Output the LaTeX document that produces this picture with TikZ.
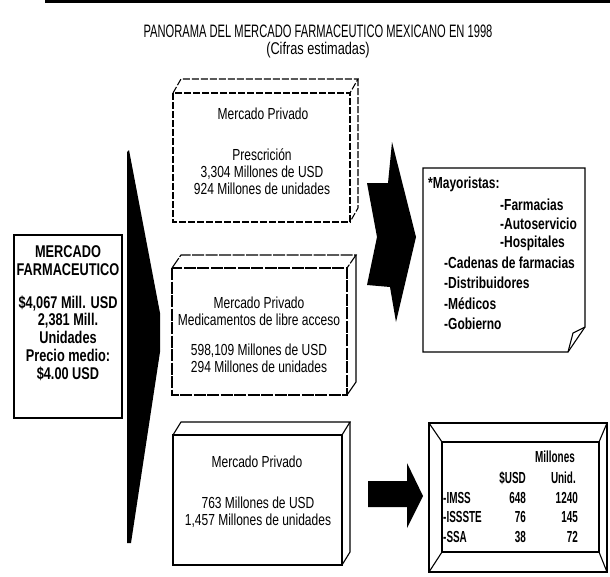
\documentclass[tikz,border=0pt]{standalone}
\usepackage{fontspec}
\setmainfont{Liberation Sans}[FakeStretch=0.75]
\newfontfamily\narrowfont{Liberation Sans}[FakeStretch=0.62]
\begin{document}
\begin{tikzpicture}[x=1pt,y=-1pt,
  outline/.style={line width=1.1pt, line join=miter},
  dashline/.style={outline, dash pattern=on 7pt off 2pt},
  txt/.style={inner sep=0pt, align=center, font=\fontsize{16}{17}\selectfont},
  boldtxt/.style={inner sep=0pt, align=center, font=\bfseries\fontsize{17}{17.8}\selectfont},
  notetxt/.style={inner sep=0pt, anchor=west, font=\bfseries\fontsize{16}{17}\selectfont},
  tabtxt/.style={inner sep=0pt, font=\narrowfont\bfseries\fontsize{16}{17}\selectfont},
]
\useasboundingbox (0,0) rectangle (610,576);

% header strip
\fill[black] (45,0) rectangle (610,3);

% title
\node[txt, font=\narrowfont\fontsize{18}{19}\selectfont] (title) at (318,31) {PANORAMA DEL MERCADO FARMACEUTICO MEXICANO EN 1998};
\node[txt, font=\fontsize{17}{18}\selectfont] (subtitle) at (318,50) {(Cifras estimadas)};

% total market box
\draw[outline] (14,235) rectangle (122,418);
\node[boldtxt] (total1) at (68,261) {MERCADO\\FARMACEUTICO};
\node[boldtxt] (total2) at (68,338) {\$4,067 Mill. USD\\2,381 Mill.\\Unidades\\Precio medio:\\\$4.00 USD};

% large wedge pointing to the three segments
\fill[black] (129,150) -- (160,313) -- (160,352) -- (131,543) -- (127,543) -- (127,152) -- cycle;

% segment 1: prescription
\draw[dashline] (173,93) rectangle (350,222);
\draw[dashline] (173,93) -- (181,79) -- (358,79) -- (350,93);
\draw[dashline] (358,79) -- (358,208) -- (350,222);
\node[txt] (rx1) at (263,114) {Mercado Privado};
\node[txt] (rx2) at (262,172) {Prescrición\\3,304 Millones de USD\\924 Millones de unidades};

% segment 2: over the counter
\draw[outline, dash pattern=on 12pt off 1.5pt] (172,268) rectangle (347,395);
\draw[outline, dash pattern=on 12pt off 1.5pt] (172,268) -- (181,255) -- (356,255) -- (347,268);
\draw[outline] (356,255) -- (356,382) -- (347,395);
\node[txt] (otc1) at (259,311) {Mercado Privado\\Medicamentos de libre acceso};
\node[txt] (otc2) at (259,358) {598,109 Millones de USD\\294 Millones de unidades};

% segment 3: public sector
\draw[outline] (173,435) rectangle (342,565);
\draw[outline] (173,435) -- (181,422) -- (350,422) -- (342,435);
\draw[outline] (350,422) -- (350,552) -- (342,565);
\node[txt] (pub1) at (257,462) {Mercado Privado};
\node[txt] (pub2) at (258,512) {763 Millones de USD\\1,457 Millones de unidades};

% notched arrow towards the distributors
\fill[black] (367,183) -- (388,183) -- (392,142) -- (416,237) -- (396,322) -- (390,287) -- (367,285) -- (377,237) -- cycle;

% distributors note with folded corner
\draw[outline] (423,168) -- (585,168) -- (585,327) -- (568,352) -- (423,352) -- cycle;
\draw[outline] (568,352) -- (573,333) -- (585,327);
\node[notetxt] (n0) at (428,184) {*Mayoristas:};
\node[notetxt] (n1) at (500,205) {-Farmacias};
\node[notetxt] (n2) at (500,224) {-Autoservicio};
\node[notetxt] (n3) at (500,243) {-Hospitales};
\node[notetxt] (n4) at (444,263) {-Cadenas de farmacias};
\node[notetxt] (n5) at (444,283) {-Distribuidores};
\node[notetxt] (n6) at (444,304) {-Médicos};
\node[notetxt] (n7) at (444,324) {-Gobierno};

% block arrow towards the institutions table
\fill[black] (368,481) -- (407,481) -- (407,463) -- (423,496) -- (407,528) -- (407,507) -- (368,507) -- cycle;

% bevelled frame with institutions
\draw[outline] (429,423) rectangle (607,572);
\draw[outline] (442,442) rectangle (599,552);
\draw[outline] (429,423) -- (442,442);
\draw[outline] (607,423) -- (599,442);
\draw[outline] (429,572) -- (442,552);
\draw[outline] (607,572) -- (599,552);
\node[tabtxt, anchor=east] (hmill) at (575,457) {Millones};
\node[tabtxt, anchor=east] (husd) at (526,478) {\$USD};
\node[tabtxt, anchor=east] (hunid) at (576,478) {Unid.};
\node[tabtxt, anchor=west] (r1) at (443,498) {-IMSS};
\node[tabtxt, anchor=east] (r1a) at (526,498) {648};
\node[tabtxt, anchor=east] (r1b) at (578,498) {1240};
\node[tabtxt, anchor=west] (r2) at (443,517) {-ISSSTE};
\node[tabtxt, anchor=east] (r2a) at (526,517) {76};
\node[tabtxt, anchor=east] (r2b) at (578,517) {145};
\node[tabtxt, anchor=west] (r3) at (443,537) {-SSA};
\node[tabtxt, anchor=east] (r3a) at (526,537) {38};
\node[tabtxt, anchor=east] (r3b) at (578,537) {72};
\end{tikzpicture}
\end{document}
